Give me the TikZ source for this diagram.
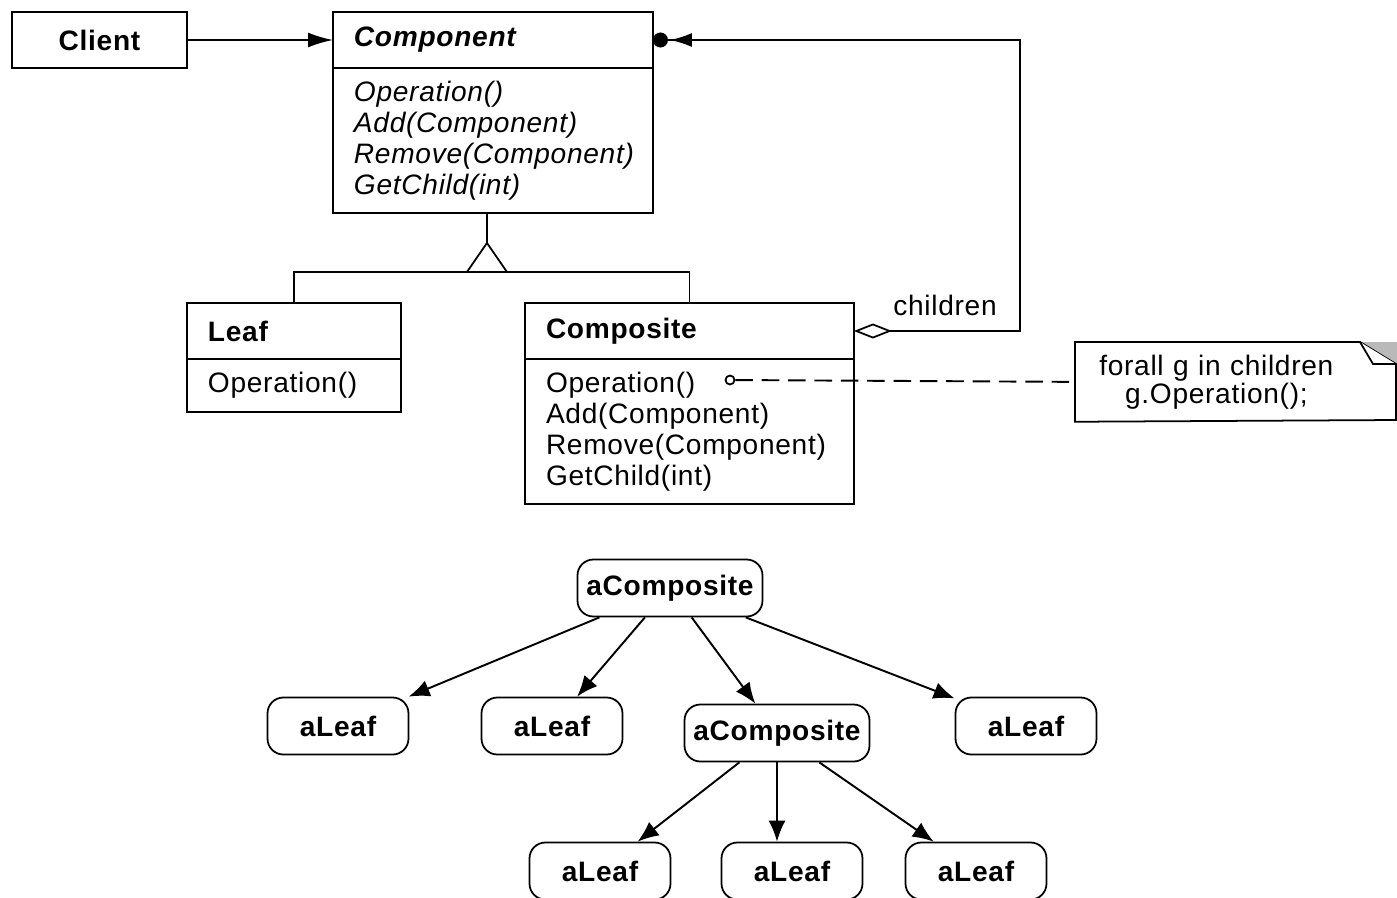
\documentclass[tikz,border=0pt]{standalone}
\usepackage{fontspec}
\setmainfont[LetterSpace=2.5]{Liberation Sans}
\usetikzlibrary{positioning,arrows.meta}
\newcommand{\umlfont}{\fontsize{16}{17.6}\selectfont}
\tikzset{
    classhead/.style={draw, anchor=north west, align=left, inner xsep=0.42cm, inner ysep=0pt, outer sep=0pt, minimum height=1.12cm, font=\umlfont\bfseries},
    classops/.style={draw, align=left, inner xsep=0.42cm, inner ysep=0pt, outer sep=0pt, font=\umlfont},
    objbox/.style={draw, line width=1pt, rounded corners=9pt, minimum width=2.82cm, minimum height=1.14cm, font=\umlfont\bfseries},
    umlline/.style={draw, line width=1pt},
    umlarrow/.style={umlline, -{Latex[length=5mm,width=3mm]}},
    objarrow/.style={draw, line width=1.1pt, -{Latex[length=4.2mm,width=3.4mm]}},
    notelink/.style={draw, line width=1.1pt, dash pattern=on 10pt off 5pt}
}

\begin{document}
\begin{tikzpicture}[x=0.02cm, y=-0.02cm, line width=1pt]
    \useasboundingbox (0,0) rectangle (1397,897);

    % class diagram
    \node[classhead, text width=2.66cm, align=center] (client) at (12,12) {Client};
    \node[classhead, text width=5.56cm] (component) at (333,12) {\itshape Component};
    \node[classops, text width=5.56cm, minimum height=2.9cm, below=0pt of component, font=\umlfont\itshape] (compops)
        {Operation()\\Add(Component)\\Remove(Component)\\GetChild(int)};
    \node[classhead, text width=3.44cm] (leaf) at (187,303) {Leaf};
    \node[classops, text width=3.44cm, minimum height=1.06cm, below=0pt of leaf] (leafops) {Operation()};
    \node[classhead, text width=5.74cm] (composite) at (525,303) {Composite};
    \node[classops, text width=5.74cm, minimum height=2.9cm, below=0pt of composite] (compositeops)
        {Operation()\\Add(Component)\\Remove(Component)\\GetChild(int)};

    \draw[umlarrow] (client.east) -- (component.west);

    % generalization
    \path (compops.south) ++(-6,30) coordinate (genapex) ++(0,29) coordinate (genbase);
    \draw[umlline] (compops.south -| genapex) -- (genapex);
    \draw[umlline] (genapex) -- ++(-20,29) -- ++(40,0) -- cycle;
    \draw[umlline] (leaf.north) |- (genbase) -| (composite.north);

    % children aggregation
    \draw[umlline, {Diamond[open,length=7.6mm,width=3mm]}-{Latex[length=4.4mm,width=2.8mm,sep=0.4mm]Circle[length=3mm]}]
        (composite.east) -- ++(166,0) |- (component.east);
    \node[font=\umlfont] (childlabel) at (945,305) {children};

    % note
    \node[circle, draw, inner sep=0pt, minimum size=0.18cm] (opdot) at (730,380) {};
    \node[anchor=north west, minimum height=1.56cm, inner xsep=0.36cm, text width=4.9cm, align=center,
        font=\fontsize{16}{12.5}\selectfont] (note) at (1075,342) {forall g in children\\g.Operation();};
    \fill[gray!55] (1360,342) -- (1397,342) -- (1397,364) -- cycle;
    \draw[umlline] (note.north west) -- (1360,342) -- (1396,364) -- (1396,420) -- (note.south west) -- cycle;
    \draw[umlline, fill=white] (1360,342) -- (1373,364) -- (1396,364);
    \draw[notelink] (opdot) -- (note.west);

    % object diagram
    \node[objbox, minimum width=3.7cm] (topcomp) at (670,588) {aComposite};
    \node[objbox] (leafa) at (338,726) {aLeaf};
    \node[objbox] (leafb) at (552,726) {aLeaf};
    \node[objbox, minimum width=3.7cm] (subcomp) at (777,733) {aComposite};
    \node[objbox] (leafc) at (1026,726) {aLeaf};
    \node[objbox] (leafd) at (600,871) {aLeaf};
    \node[objbox] (leafe) at (792,871) {aLeaf};
    \node[objbox] (leaff) at (976,871) {aLeaf};

    \foreach \t in {leafa,leafb,subcomp,leafc}
        \draw[objarrow] (topcomp) -- (\t);
    \draw[objarrow] (subcomp) -- (leafd);
    \draw[objarrow] (subcomp.south) -- (subcomp.south |- leafe.north);
    \draw[objarrow] (subcomp) -- (leaff);
\end{tikzpicture}
\end{document}
